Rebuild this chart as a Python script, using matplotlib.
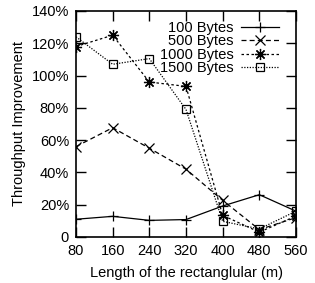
import matplotlib
matplotlib.use("Agg")
import matplotlib.pyplot as plt
from matplotlib.ticker import FuncFormatter

plt.rcParams['font.family'] = ['Liberation Sans', 'DejaVu Sans']

x = [80, 160, 240, 320, 400, 480, 560]
b100 = [11, 12.8, 10.3, 10.8, 19.2, 26.2, 16]
b500 = [56, 67.7, 55, 42, 22.7, 4.6, 12]
b1000 = [118, 125, 96, 93.3, 13.4, 3, 13]
b1500 = [124, 107, 110.5, 79, 9.7, 5, 16]
yticks = [0, 20, 40, 60, 80, 100, 120, 140]

fig = plt.figure(figsize=(3.15, 2.83), dpi=100)
ax = fig.add_axes([76/315, 1-237/283, 220/315, 226/283])

ax.plot(x, b100, color='black', lw=0.9, ls='-', marker='+', ms=7, mew=0.9, label='100 Bytes')
ax.plot(x, b500, color='black', lw=0.9, ls=(0, (4, 2.5)), marker='x', ms=7, mew=0.9, label='500 Bytes')
ax.plot(x, b1000, color='black', lw=0.9, ls=(0, (2, 2)), marker=(8, 2, 0), ms=8, mew=0.9, label='1000 Bytes')
ax.plot(x, b1500, color='black', lw=0.9, ls=(0, (1, 1.2)), marker='s', ms=6, mew=0.9,
        mfc='none', label='1500 Bytes')

ax.set_xlim(80, 560)
ax.set_ylim(0, 140)
ax.set_xticks(x)
ax.set_yticks(yticks)
ax.yaxis.set_major_formatter(FuncFormatter(lambda v, p: '0' if v == 0 else f'{int(v)}%'))
ax.tick_params(direction='in', length=7, width=1, top=True, right=True, labelsize=10.5, pad=5)
for s in ax.spines.values():
    s.set_linewidth(1.2)
ax.set_xlabel('Length of the rectanglular (m)', fontsize=10.5, labelpad=6)
ax.set_ylabel('Throughput Improvement', fontsize=10.5, labelpad=4)

leg = ax.legend(loc='upper right', bbox_to_anchor=(0.968, 1.0), frameon=False, fontsize=10.5,
                markerfirst=False, handlelength=2.6, labelspacing=-0.05, borderaxespad=0.3,
                handletextpad=0.5)
for t in leg.get_texts():
    t.set_ha('right')
fig.savefig('out.png', dpi=100)
